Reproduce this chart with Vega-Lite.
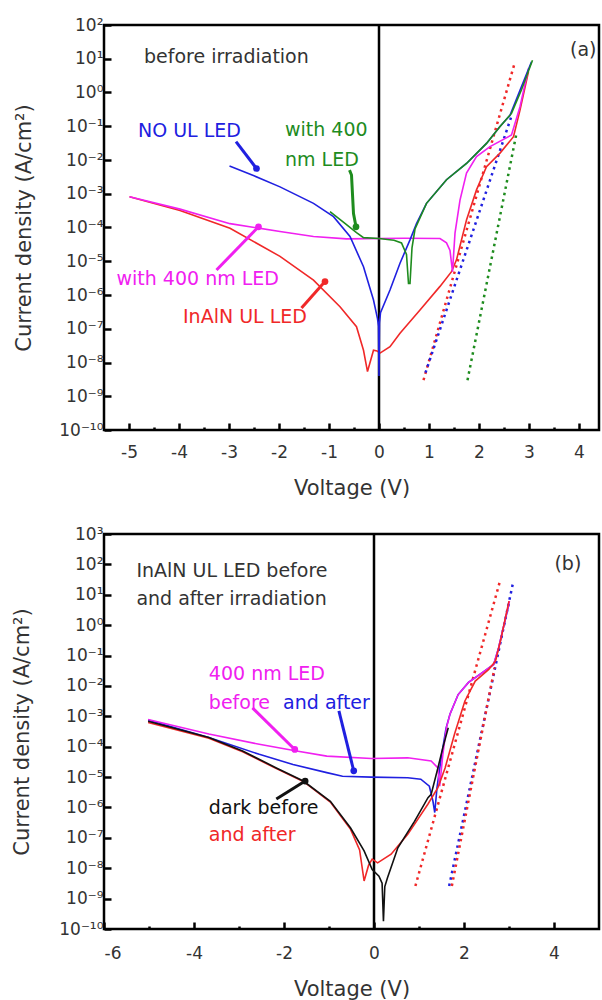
{
  "$schema": "https://vega.github.io/schema/vega-lite/v6.json",
  "padding": {"left": 10, "top": 14, "right": 0, "bottom": 0},
  "background": "white",
  "config": {
    "view": {"stroke": "black", "strokeWidth": 2.5},
    "font": "DejaVu Sans",
    "axis": {
      "domain": false, "grid": false, "zindex": 1,
      "tickColor": "black", "tickWidth": 2.5, "tickSize": -7,
      "labelFont": "DejaVu Sans", "labelFontSize": 17, "labelColor": "#333",
      "titleFont": "DejaVu Sans", "titleFontSize": 21, "titleFontWeight": "normal", "titleColor": "#333"
    }
  },
  "resolve": {"scale": {"x": "independent", "y": "independent", "color": "independent"}},
  "spacing": 23,
  "datasets": {
    "a_curves": [
      {"s":"InAlN UL LED","V":-4.99,"J":8.1e-4},{"s":"InAlN UL LED","V":-3.98,"J":3.2e-4},{"s":"InAlN UL LED","V":-2.98,"J":9.5e-5},{"s":"InAlN UL LED","V":-1.98,"J":1.4e-5},{"s":"InAlN UL LED","V":-1.31,"J":2.75e-6},{"s":"InAlN UL LED","V":-0.78,"J":4.5e-7},{"s":"InAlN UL LED","V":-0.45,"J":1.15e-7},{"s":"InAlN UL LED","V":-0.31,"J":2.3e-8},{"s":"InAlN UL LED","V":-0.23,"J":5.4e-9},{"s":"InAlN UL LED","V":-0.11,"J":2.3e-8},{"s":"InAlN UL LED","V":-0.04,"J":2.2e-8},{"s":"InAlN UL LED","V":0.02,"J":1.9e-8},{"s":"InAlN UL LED","V":0.22,"J":2.95e-8},{"s":"InAlN UL LED","V":0.42,"J":7.4e-8},{"s":"InAlN UL LED","V":0.82,"J":3.6e-7},{"s":"InAlN UL LED","V":1.22,"J":1.8e-6},{"s":"InAlN UL LED","V":1.45,"J":4.9e-6},{"s":"InAlN UL LED","V":1.55,"J":1.1e-5},{"s":"InAlN UL LED","V":1.75,"J":1.66e-4},{"s":"InAlN UL LED","V":1.95,"J":1.3e-3},{"s":"InAlN UL LED","V":2.15,"J":6.3e-3},{"s":"InAlN UL LED","V":2.42,"J":1.6e-2},{"s":"InAlN UL LED","V":2.69,"J":4.9e-2},{"s":"InAlN UL LED","V":2.82,"J":0.3},{"s":"InAlN UL LED","V":2.99,"J":4.2},
      {"s":"InAlN UL LED, 400 nm","V":-4.99,"J":8.1e-4},{"s":"InAlN UL LED, 400 nm","V":-3.98,"J":3.5e-4},{"s":"InAlN UL LED, 400 nm","V":-2.98,"J":1.3e-4},{"s":"InAlN UL LED, 400 nm","V":-1.98,"J":7.6e-5},{"s":"InAlN UL LED, 400 nm","V":-1.31,"J":5.4e-5},{"s":"InAlN UL LED, 400 nm","V":-0.65,"J":4.6e-5},{"s":"InAlN UL LED, 400 nm","V":0.5,"J":4.8e-5},{"s":"InAlN UL LED, 400 nm","V":1.22,"J":4.7e-5},{"s":"InAlN UL LED, 400 nm","V":1.35,"J":3.5e-5},{"s":"InAlN UL LED, 400 nm","V":1.42,"J":2.1e-5},{"s":"InAlN UL LED, 400 nm","V":1.47,"J":4.9e-6},{"s":"InAlN UL LED, 400 nm","V":1.52,"J":6.8e-5},{"s":"InAlN UL LED, 400 nm","V":1.62,"J":6.5e-4},{"s":"InAlN UL LED, 400 nm","V":1.75,"J":4.1e-3},{"s":"InAlN UL LED, 400 nm","V":1.95,"J":1.26e-2},{"s":"InAlN UL LED, 400 nm","V":2.22,"J":2.5e-2},{"s":"InAlN UL LED, 400 nm","V":2.65,"J":5.5e-2},{"s":"InAlN UL LED, 400 nm","V":2.82,"J":0.38},{"s":"InAlN UL LED, 400 nm","V":2.99,"J":5.2},
      {"s":"NO UL LED","V":-2.99,"J":6.6e-3},{"s":"NO UL LED","V":-2.5,"J":3.4e-3},{"s":"NO UL LED","V":-1.98,"J":1.6e-3},{"s":"NO UL LED","V":-1.31,"J":5.2e-4},{"s":"NO UL LED","V":-0.91,"J":2.1e-4},{"s":"NO UL LED","V":-0.58,"J":5.4e-5},{"s":"NO UL LED","V":-0.31,"J":6.9e-6},{"s":"NO UL LED","V":-0.11,"J":7.1e-7},{"s":"NO UL LED","V":-0.03,"J":2.0e-7},{"s":"NO UL LED","V":-0.01,"J":1.2e-7},{"s":"NO UL LED","V":0,"J":4e-9},{"s":"NO UL LED","V":0.01,"J":1.5e-7},{"s":"NO UL LED","V":0.03,"J":3.0e-7},{"s":"NO UL LED","V":0.22,"J":1.4e-6},{"s":"NO UL LED","V":0.42,"J":8.7e-6},{"s":"NO UL LED","V":0.62,"J":4.3e-5},{"s":"NO UL LED","V":0.75,"J":1.3e-4},{"s":"NO UL LED","V":0.95,"J":5.2e-4},{"s":"NO UL LED","V":1.35,"J":2.6e-3},{"s":"NO UL LED","V":1.75,"J":7.9e-3},{"s":"NO UL LED","V":2.15,"J":3.1e-2},{"s":"NO UL LED","V":2.42,"J":9.8e-2},{"s":"NO UL LED","V":2.62,"J":0.21},{"s":"NO UL LED","V":2.82,"J":1.17},{"s":"NO UL LED","V":3.05,"J":8.1},
      {"s":"NO UL LED, 400 nm","V":-0.98,"J":2.95e-4},{"s":"NO UL LED, 400 nm","V":-0.7,"J":1.4e-4},{"s":"NO UL LED, 400 nm","V":-0.45,"J":7.1e-5},{"s":"NO UL LED, 400 nm","V":-0.31,"J":5.0e-5},{"s":"NO UL LED, 400 nm","V":0,"J":4.7e-5},{"s":"NO UL LED, 400 nm","V":0.3,"J":4.2e-5},{"s":"NO UL LED, 400 nm","V":0.45,"J":3.5e-5},{"s":"NO UL LED, 400 nm","V":0.55,"J":1.6e-5},{"s":"NO UL LED, 400 nm","V":0.59,"J":2.2e-6},{"s":"NO UL LED, 400 nm","V":0.62,"J":2.2e-6},{"s":"NO UL LED, 400 nm","V":0.66,"J":2.5e-5},{"s":"NO UL LED, 400 nm","V":0.72,"J":9e-5},{"s":"NO UL LED, 400 nm","V":0.95,"J":5.2e-4},{"s":"NO UL LED, 400 nm","V":1.35,"J":2.6e-3},{"s":"NO UL LED, 400 nm","V":1.75,"J":7.9e-3},{"s":"NO UL LED, 400 nm","V":2.15,"J":3.1e-2},{"s":"NO UL LED, 400 nm","V":2.42,"J":9.8e-2},{"s":"NO UL LED, 400 nm","V":2.65,"J":0.24},{"s":"NO UL LED, 400 nm","V":2.85,"J":1.2},{"s":"NO UL LED, 400 nm","V":3.07,"J":9.0}
    ],
    "a_fits": [
      {"f":"r","s":"InAlN UL LED","V":0.89,"J":3.0e-9},{"f":"r","s":"InAlN UL LED","V":2.72,"J":8.1},
      {"f":"b","s":"NO UL LED","V":0.93,"J":5.0e-9},{"f":"b","s":"NO UL LED","V":2.65,"J":0.2},
      {"f":"g","s":"NO UL LED, 400 nm","V":1.77,"J":3.0e-9},{"f":"g","s":"NO UL LED, 400 nm","V":2.75,"J":6.2e-2}
    ],
    "a_arrows": [
      {"a":1,"s":"NO UL LED","V":-2.86,"J":3.5e-2,"p":"tail"},{"a":1,"s":"NO UL LED","V":-2.45,"J":5.6e-3,"p":"head"},
      {"a":2,"s":"NO UL LED, 400 nm","V":-0.59,"J":5.0e-3,"p":"tail"},{"a":2,"s":"NO UL LED, 400 nm","V":-0.55,"J":3.6e-3,"p":"mid"},{"a":2,"s":"NO UL LED, 400 nm","V":-0.51,"J":2.6e-4,"p":"mid"},{"a":2,"s":"NO UL LED, 400 nm","V":-0.46,"J":1.05e-4,"p":"head"},
      {"a":3,"s":"InAlN UL LED, 400 nm","V":-3.25,"J":5.5e-6,"p":"tail"},{"a":3,"s":"InAlN UL LED, 400 nm","V":-2.41,"J":1.05e-4,"p":"head"},
      {"a":4,"s":"InAlN UL LED","V":-1.55,"J":4.1e-7,"p":"tail"},{"a":4,"s":"InAlN UL LED","V":-1.08,"J":2.5e-6,"p":"head"}
    ],
    "a_text": [
      {"s":"label","V":-4.7,"J":11.5,"t":"before irradiation"},
      {"s":"label","V":3.82,"J":18,"t":"(a)"},
      {"s":"NO UL LED","V":-4.82,"J":7.2e-2,"t":"NO UL LED"},
      {"s":"NO UL LED, 400 nm","V":-1.88,"J":7.9e-2,"t":"with 400"},
      {"s":"NO UL LED, 400 nm","V":-1.88,"J":1.0e-2,"t":"nm LED"},
      {"s":"InAlN UL LED, 400 nm","V":-5.25,"J":2.95e-6,"t":"with 400 nm LED"},
      {"s":"InAlN UL LED","V":-3.92,"J":2.3e-7,"t":"InAlN UL LED"}
    ],
    "b_curves": [
      {"s":"400 nm after","V":-5.02,"J":7.6e-4},{"s":"400 nm after","V":-3.67,"J":2.0e-4},{"s":"400 nm after","V":-2.55,"J":5.6e-5},{"s":"400 nm after","V":-1.8,"J":2.6e-5},{"s":"400 nm after","V":-1.05,"J":1.4e-5},{"s":"400 nm after","V":-0.7,"J":1.07e-5},{"s":"400 nm after","V":-0.06,"J":1.0e-5},{"s":"400 nm after","V":0.75,"J":9.5e-6},{"s":"400 nm after","V":1.04,"J":8.5e-6},{"s":"400 nm after","V":1.23,"J":5.0e-6},{"s":"400 nm after","V":1.31,"J":1.6e-6},{"s":"400 nm after","V":1.35,"J":6.8e-7},{"s":"400 nm after","V":1.4,"J":4.5e-6},{"s":"400 nm after","V":1.5,"J":5.0e-5},{"s":"400 nm after","V":1.6,"J":4.0e-4},{"s":"400 nm after","V":1.69,"J":1.2e-3},{"s":"400 nm after","V":1.87,"J":5.2e-3},{"s":"400 nm after","V":2.1,"J":1.3e-2},{"s":"400 nm after","V":2.4,"J":2.7e-2},{"s":"400 nm after","V":2.66,"J":5.1e-2},{"s":"400 nm after","V":2.77,"J":0.18},{"s":"400 nm after","V":3.0,"J":5.0},
      {"s":"400 nm before","V":-5.02,"J":7.9e-4},{"s":"400 nm before","V":-3.67,"J":2.6e-4},{"s":"400 nm before","V":-2.55,"J":1.2e-4},{"s":"400 nm before","V":-1.72,"J":7.2e-5},{"s":"400 nm before","V":-1.05,"J":4.9e-5},{"s":"400 nm before","V":-0.06,"J":4.1e-5},{"s":"400 nm before","V":0.75,"J":4.3e-5},{"s":"400 nm before","V":1.27,"J":3.4e-5},{"s":"400 nm before","V":1.42,"J":2.0e-5},{"s":"400 nm before","V":1.46,"J":5.0e-6},{"s":"400 nm before","V":1.53,"J":5.6e-5},{"s":"400 nm before","V":1.61,"J":4.2e-4},{"s":"400 nm before","V":1.69,"J":1.2e-3},{"s":"400 nm before","V":1.87,"J":5.2e-3},{"s":"400 nm before","V":2.1,"J":1.3e-2},{"s":"400 nm before","V":2.4,"J":2.7e-2},{"s":"400 nm before","V":2.66,"J":5.1e-2},{"s":"400 nm before","V":2.77,"J":0.18},{"s":"400 nm before","V":3.01,"J":6.2},
      {"s":"dark after","V":-5.02,"J":6.3e-4},{"s":"dark after","V":-3.67,"J":1.9e-4},{"s":"dark after","V":-2.92,"J":6.8e-5},{"s":"dark after","V":-2.17,"J":1.9e-5},{"s":"dark after","V":-1.57,"J":7.2e-6},{"s":"dark after","V":-0.97,"J":1.5e-6},{"s":"dark after","V":-0.52,"J":1.9e-7},{"s":"dark after","V":-0.32,"J":4.0e-8},{"s":"dark after","V":-0.22,"J":3.8e-9},{"s":"dark after","V":-0.12,"J":1.26e-8},{"s":"dark after","V":-0.04,"J":2.0e-8},{"s":"dark after","V":0.08,"J":1.5e-8},{"s":"dark after","V":0.38,"J":2.9e-8},{"s":"dark after","V":0.75,"J":1.3e-7},{"s":"dark after","V":1.2,"J":1.3e-6},{"s":"dark after","V":1.42,"J":4.5e-6},{"s":"dark after","V":1.58,"J":2.0e-5},{"s":"dark after","V":1.79,"J":2.6e-4},{"s":"dark after","V":2.02,"J":3.2e-3},{"s":"dark after","V":2.25,"J":1.45e-2},{"s":"dark after","V":2.55,"J":3.5e-2},{"s":"dark after","V":2.7,"J":6.6e-2},{"s":"dark after","V":2.81,"J":0.3},{"s":"dark after","V":3.0,"J":6.2},
      {"s":"dark before","V":-5.02,"J":6.9e-4},{"s":"dark before","V":-3.67,"J":2.0e-4},{"s":"dark before","V":-2.92,"J":7.2e-5},{"s":"dark before","V":-2.17,"J":2.0e-5},{"s":"dark before","V":-1.57,"J":7.4e-6},{"s":"dark before","V":-0.97,"J":1.6e-6},{"s":"dark before","V":-0.52,"J":2.1e-7},{"s":"dark before","V":-0.22,"J":3.7e-8},{"s":"dark before","V":-0.04,"J":9.1e-9},{"s":"dark before","V":0.11,"J":5.5e-9},{"s":"dark before","V":0.18,"J":3.2e-9},{"s":"dark before","V":0.21,"J":1.8e-10},{"s":"dark before","V":0.24,"J":2.5e-9},{"s":"dark before","V":0.3,"J":4.9e-9},{"s":"dark before","V":0.53,"J":4.7e-8},{"s":"dark before","V":0.9,"J":3.5e-7},{"s":"dark before","V":1.2,"J":2.1e-6},{"s":"dark before","V":1.27,"J":2.7e-6},{"s":"dark before","V":1.42,"J":2.0e-5},{"s":"dark before","V":1.53,"J":9.3e-5},{"s":"dark before","V":1.65,"J":4.2e-4}
    ],
    "b_fits": [
      {"f":"r1","s":"dark after","V":0.92,"J":2.6e-9},{"f":"r1","s":"dark after","V":2.79,"J":25},
      {"f":"b1","s":"400 nm after","V":1.67,"J":2.6e-9},{"f":"b1","s":"400 nm after","V":3.09,"J":25},
      {"f":"r2","s":"dark after","V":1.73,"J":2.6e-9},{"f":"r2","s":"dark after","V":2.68,"J":4.0e-2}
    ],
    "b_arrows": [
      {"a":1,"s":"400 nm before","V":-2.7,"J":1.9e-3,"p":"tail"},{"a":1,"s":"400 nm before","V":-1.76,"J":8.1e-5,"p":"head"},
      {"a":2,"s":"400 nm after","V":-0.78,"J":1.5e-3,"p":"tail"},{"a":2,"s":"400 nm after","V":-0.45,"J":1.6e-5,"p":"head"},
      {"a":3,"s":"dark before","V":-2.17,"J":1.9e-6,"p":"tail"},{"a":3,"s":"dark before","V":-1.53,"J":7.4e-6,"p":"head"}
    ],
    "b_text": [
      {"s":"label","V":-5.28,"J":60,"t":"InAlN UL LED before"},
      {"s":"label","V":-5.28,"J":7.1,"t":"and after irradiation"},
      {"s":"label","V":4.01,"J":100,"t":"(b)"},
      {"s":"400 nm before","V":-3.67,"J":2.4e-2,"t":"400 nm LED"},
      {"s":"400 nm before","V":-3.67,"J":2.8e-3,"t":"before"},
      {"s":"400 nm after","V":-2.02,"J":2.8e-3,"t":"and after"},
      {"s":"dark before","V":-3.67,"J":9.8e-7,"t":"dark before"},
      {"s":"dark after","V":-3.67,"J":1.2e-7,"t":"and after"}
    ]
  },
  "vconcat": [
    {
      "width": 495, "height": 405,
      "encoding": {
        "x": {"field": "V", "type": "quantitative", "scale": {"domain": [-5.5, 4.4], "nice": false, "zero": false},
              "axis": {"title": "Voltage (V)", "values": [-5,-4.5,-4,-3.5,-3,-2.5,-2,-1.5,-1,-0.5,0,0.5,1,1.5,2,2.5,3,3.5,4], "labelExpr": "datum.value % 1 == 0 ? '' + datum.value : ''", "labelPadding": 21, "titlePadding": 17,
                       "tickSize": {"condition": {"test": "datum.value % 1 != 0", "value": -3}, "value": -7}}},
        "y": {"field": "J", "type": "quantitative", "scale": {"type": "log", "domain": [1e-10, 100], "nice": false},
              "axis": {"title": "Current density (A/cm²)", "values": [1e-10,1e-9,1e-8,1e-7,1e-6,1e-5,1e-4,1e-3,1e-2,1e-1,1,10,100], "labelPadding": 8, "titlePadding": 24,
                       "labelExpr": "'10' + (round(log(datum.value)/LN10) < 0 ? '⁻' : '') + (abs(round(log(datum.value)/LN10)) == 10 ? '¹⁰' : ['⁰','¹','²','³','⁴','⁵','⁶','⁷','⁸','⁹'][abs(round(log(datum.value)/LN10))])"}},
        "color": {"field": "s", "type": "nominal", "legend": null,
                  "scale": {"domain": ["InAlN UL LED", "InAlN UL LED, 400 nm", "NO UL LED", "NO UL LED, 400 nm", "label"], "range": ["#f02828", "#f020f0", "#2020e0", "#1e8c1e", "#333333"]}}
      },
      "layer": [
        {"data": {"values": [{"V": 0}]}, "mark": {"type": "rule", "color": "black", "strokeWidth": 2.5}, "encoding": {"x": {"field": "V", "type": "quantitative"}, "y": null, "color": null}},
        {"data": {"name": "a_fits"}, "mark": {"type": "line", "strokeDash": [2.5, 4], "strokeWidth": 2.5, "clip": true}, "encoding": {"detail": {"field": "f"}}},
        {"data": {"name": "a_curves"}, "mark": {"type": "line", "strokeWidth": 1.6, "clip": true}},
        {"data": {"name": "a_arrows"}, "mark": {"type": "line", "strokeWidth": 3}, "encoding": {"detail": {"field": "a"}}},
        {"data": {"name": "a_arrows"}, "transform": [{"filter": "datum.p == 'head'"}], "mark": {"type": "point", "filled": true, "size": 45, "opacity": 1}},
        {"data": {"name": "a_text"}, "mark": {"type": "text", "align": "left", "baseline": "middle", "font": "DejaVu Sans", "fontSize": 19}, "encoding": {"text": {"field": "t"}}}
      ]
    },
    {
      "width": 495, "height": 395,
      "encoding": {
        "x": {"field": "V", "type": "quantitative", "scale": {"domain": [-6, 5], "nice": false, "zero": false},
              "axis": {"title": "Voltage (V)", "values": [-6,-5,-4,-3,-2,-1,0,1,2,3,4], "labelExpr": "datum.value % 2 == 0 ? '' + datum.value : ''", "labelPadding": 23, "titlePadding": 17,
                       "tickSize": {"condition": {"test": "datum.value % 2 != 0", "value": -3}, "value": -7}}},
        "y": {"field": "J", "type": "quantitative", "scale": {"type": "log", "domain": [1e-10, 1000], "nice": false},
              "axis": {"title": "Current density (A/cm²)", "values": [1e-10,1e-9,1e-8,1e-7,1e-6,1e-5,1e-4,1e-3,1e-2,1e-1,1,10,100,1000], "labelPadding": 8, "titlePadding": 26,
                       "labelExpr": "'10' + (round(log(datum.value)/LN10) < 0 ? '⁻' : '') + (abs(round(log(datum.value)/LN10)) == 10 ? '¹⁰' : ['⁰','¹','²','³','⁴','⁵','⁶','⁷','⁸','⁹'][abs(round(log(datum.value)/LN10))])"}},
        "color": {"field": "s", "type": "nominal", "legend": null,
                  "scale": {"domain": ["400 nm after", "400 nm before", "dark after", "dark before", "label"], "range": ["#2020e0", "#f020f0", "#f02828", "#111111", "#333333"]}}
      },
      "layer": [
        {"data": {"values": [{"V": 0}]}, "mark": {"type": "rule", "color": "black", "strokeWidth": 2.5}, "encoding": {"x": {"field": "V", "type": "quantitative"}, "y": null, "color": null}},
        {"data": {"name": "b_fits"}, "mark": {"type": "line", "strokeDash": [2.5, 4], "strokeWidth": 2.5, "clip": true}, "encoding": {"detail": {"field": "f"}}},
        {"data": {"name": "b_curves"}, "mark": {"type": "line", "strokeWidth": 1.6, "clip": true}},
        {"data": {"name": "b_arrows"}, "mark": {"type": "line", "strokeWidth": 3}, "encoding": {"detail": {"field": "a"}}},
        {"data": {"name": "b_arrows"}, "transform": [{"filter": "datum.p == 'head'"}], "mark": {"type": "point", "filled": true, "size": 45, "opacity": 1}},
        {"data": {"name": "b_text"}, "mark": {"type": "text", "align": "left", "baseline": "middle", "font": "DejaVu Sans", "fontSize": 19}, "encoding": {"text": {"field": "t"}}}
      ]
    }
  ]
}
